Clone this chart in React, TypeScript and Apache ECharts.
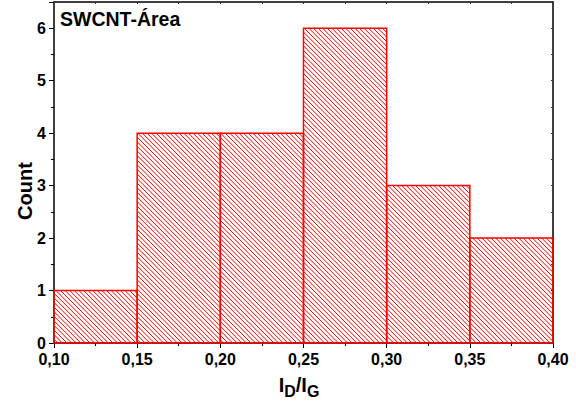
import React, { useEffect, useRef } from "react";
import * as echarts from "echarts";

const binStarts = [0.1, 0.15, 0.2, 0.25, 0.3, 0.35];
const binEnds = [0.15, 0.2, 0.25, 0.3, 0.35, 0.4];
const counts = [1, 4, 4, 6, 3, 2];
const xTicks = [0.1, 0.15, 0.2, 0.25, 0.3, 0.35, 0.4];
const yTicks = [0, 1, 2, 3, 4, 5, 6];
const panelLabel = "SWCNT-Área";
const yTitle = "Count";

const RED = "#ff0000";
const FONT = "Liberation Sans, Arial, sans-serif";

export default function App() {
  const ref = useRef<HTMLDivElement>(null);
  useEffect(() => {
    if (!ref.current) return;
    const chart = echarts.init(ref.current, null, { renderer: "svg" });
    const data = binStarts.map((s, i) => [s, binEnds[i], counts[i]]);
    const spacing = 4.6;
    const axisCommon = {
      type: "value" as const,
      axisLine: { show: true, onZero: false, lineStyle: { color: "#000", width: 1.5 } },
      splitLine: { show: false },
    };
    chart.setOption({
      animation: false,
      grid: { left: 54, right: 23, top: 2, bottom: 61 },
      xAxis: [
        {
          ...axisCommon,
          position: "bottom",
          min: 0.1,
          max: 0.4,
          interval: 0.05,
          axisTick: { show: true, inside: false, length: 5, lineStyle: { color: "#000", width: 1 } },
          minorTick: { show: true, splitNumber: 2, length: 3, lineStyle: { color: "#000", width: 1 } },
          axisLabel: {
            color: "#000",
            fontFamily: FONT,
            fontWeight: "bold",
            fontSize: 16,
            margin: 8,
            formatter: (v: number) => {
              const t = xTicks.find((x) => Math.abs(x - v) < 1e-6);
              return t === undefined ? "" : t.toFixed(2).replace(".", ",");
            },
          },
        },
        {
          ...axisCommon,
          position: "top",
          min: 0.1,
          max: 0.4,
          interval: 0.05,
          axisTick: { show: true, inside: true, length: 2, lineStyle: { color: "#333", width: 1 } },
          minorTick: { show: true, splitNumber: 2, length: 2, lineStyle: { color: "#333", width: 1 } },
          axisLabel: { show: false },
        },
      ],
      yAxis: [
        {
          ...axisCommon,
          position: "left",
          min: 0,
          max: 6.5,
          interval: 1,
          axisTick: { show: true, inside: false, length: 5, lineStyle: { color: "#000", width: 1 } },
          minorTick: { show: true, splitNumber: 2, length: 3, lineStyle: { color: "#000", width: 1 } },
          axisLabel: {
            color: "#000",
            fontFamily: FONT,
            fontWeight: "bold",
            fontSize: 16,
            margin: 8,
            showMaxLabel: false,
            formatter: (v: number) => {
              const t = yTicks.find((y) => Math.abs(y - v) < 1e-6);
              return t === undefined ? "" : String(t);
            },
          },
        },
        {
          ...axisCommon,
          position: "right",
          min: 0,
          max: 6.5,
          interval: 1,
          axisTick: { show: true, inside: true, length: 2, lineStyle: { color: "#333", width: 1 } },
          minorTick: { show: true, splitNumber: 2, length: 2, lineStyle: { color: "#333", width: 1 } },
          axisLabel: { show: false },
        },
      ],
      series: [
        {
          type: "custom",
          xAxisIndex: 0,
          yAxisIndex: 0,
          data,
          encode: { x: [0, 1], y: 2 },
          renderItem: (params: any, api: any) => {
            const x0 = api.value(0);
            const x1 = api.value(1);
            const c = api.value(2);
            const pTop = api.coord([x0, c]);
            const pBot = api.coord([x1, 0]);
            const L = pTop[0];
            const T = pTop[1];
            const R = pBot[0];
            const B = pBot[1];
            const children: any[] = [];
            const kMin = Math.ceil((T - R) / spacing);
            const kMax = Math.floor((B - L) / spacing);
            for (let k = kMin; k <= kMax; k++) {
              const off = k * spacing;
              const xa = Math.max(L, T - off);
              const xb = Math.min(R, B - off);
              if (xb <= xa) continue;
              children.push({
                type: "line",
                shape: { x1: xa, y1: xa + off, x2: xb, y2: xb + off },
                style: { stroke: RED, lineWidth: 1 },
              });
            }
            children.push({
              type: "rect",
              shape: { x: L, y: T, width: R - L, height: B - T },
              style: { fill: "none", stroke: RED, lineWidth: 1.5 },
            });
            return { type: "group", children };
          },
        },
      ],
      graphic: [
        {
          type: "text",
          x: 60,
          y: 19,
          style: {
            text: panelLabel,
            fontFamily: FONT,
            fontWeight: "bold",
            fontSize: 19.5,
            fill: "#000",
            verticalAlign: "middle",
          },
        },
        {
          type: "text",
          x: 25,
          y: 191,
          rotation: Math.PI / 2,
          style: {
            text: yTitle,
            fontFamily: FONT,
            fontWeight: "bold",
            fontSize: 20,
            fill: "#000",
            align: "center",
            verticalAlign: "middle",
          },
        },
        {
          type: "text",
          x: 299,
          y: 385,
          style: {
            text: "{b|I}{s|D}{b|/I}{s|G}",
            align: "center",
            verticalAlign: "middle",
            fill: "#000",
            rich: {
              b: { fontFamily: FONT, fontWeight: "bold", fontSize: 20, fill: "#000", verticalAlign: "top", lineHeight: 20 },
              s: { fontFamily: FONT, fontWeight: "bold", fontSize: 16, fill: "#000", verticalAlign: "top", lineHeight: 16, padding: [8, 0, 0, 0] },
            },
          },
        },
      ],
    });
    return () => chart.dispose();
  }, []);
  return (
    <div
      ref={ref}
      style={{ position: "fixed", left: 0, top: 0, width: 576, height: 404, background: "#fff" }}
    />
  );
}
